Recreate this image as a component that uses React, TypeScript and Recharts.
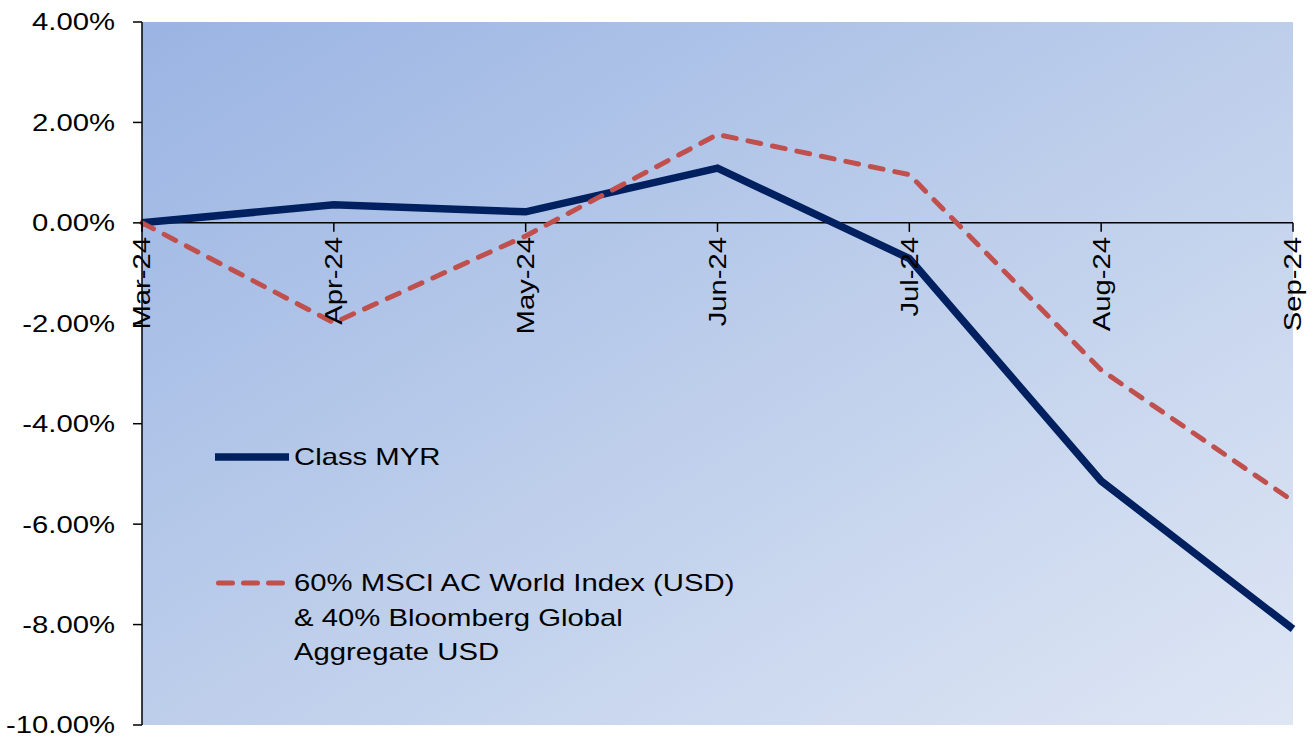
import React from 'react';
import { LineChart, Line, XAxis, YAxis, CartesianGrid, ReferenceLine, ReferenceDot } from 'recharts';

const months = ['Mar-24', 'Apr-24', 'May-24', 'Jun-24', 'Jul-24', 'Aug-24', 'Sep-24'];
const classMyr = [0, 0.36, 0.22, 1.09, -0.71, -5.14, -8.09];
const benchmark = [0, -1.99, -0.26, 1.76, 0.96, -2.93, -5.54];
const yTicks = [-10, -8, -6, -4, -2, 0, 2, 4];
const seriesNames = ['Class MYR', '60% MSCI AC World Index (USD) & 40% Bloomberg Global Aggregate USD'];
const seriesColors = ['#00205F', '#C0504D'];

const data = months.map((m, i) => ({ month: m, myr: classMyr[i], bench: benchmark[i] }));

const FONT = '"Liberation Sans", Arial, sans-serif';
const SX = 1.22;

const YTick = (props: any) => {
  const { x, y, payload } = props;
  return (
    <g transform={`translate(${x},${y}) scale(${SX},1)`}>
      <text x={0} y={0} dy="0.35em" textAnchor="end" fontSize={24} fontFamily={FONT} fill="#000">
        {`${Number(payload.value).toFixed(2)}%`}
      </text>
    </g>
  );
};

const XTickShape = (label: string) => (props: any) => {
  const { cx, cy } = props;
  return (
    <g>
      <line x1={cx} y1={cy} x2={cx} y2={cy + 9} stroke="#000" strokeWidth={1.5} />
      <g transform={`translate(${cx},${cy + 14}) rotate(-90) scale(${SX},1)`}>
        <text x={0} y={0} dy="0.35em" textAnchor="end" fontSize={24} fontFamily={FONT} fill="#000">
          {label}
        </text>
      </g>
    </g>
  );
};

const LegendOverlay = () => (
  <div style={{ position: 'absolute', left: 0, top: 0, width: 1316, height: 740, pointerEvents: 'none', fontFamily: FONT, fontSize: 24, color: '#000' }}>
    <svg width={80} height={20} style={{ position: 'absolute', left: 212, top: 447 }}>
      <line x1={3} y1={10} x2={77} y2={10} stroke={seriesColors[0]} strokeWidth={7.5} />
    </svg>
    <div style={{ position: 'absolute', left: 294, top: 440, lineHeight: '34px', whiteSpace: 'nowrap', transform: `scaleX(${SX})`, transformOrigin: 'left top' }}>
      {seriesNames[0]}
    </div>
    <svg width={80} height={20} style={{ position: 'absolute', left: 212, top: 573 }}>
      <line x1={6.5} y1={10} x2={72} y2={10} stroke={seriesColors[1]} strokeWidth={5} strokeDasharray="14 11" strokeLinecap="round" />
    </svg>
    <div style={{ position: 'absolute', left: 294, top: 566, width: 370, lineHeight: '34.5px', transform: `scaleX(${SX})`, transformOrigin: 'left top' }}>
      {seriesNames[1]}
    </div>
  </div>
);

export default function App() {
  return (
    <div style={{ position: 'absolute', left: 0, top: 0, width: 1316, height: 740, background: '#fff' }}>
      <svg width={0} height={0} style={{ position: 'absolute' }}>
        <defs>
          <linearGradient id="plotBg" x1="0" y1="0" x2="1" y2="1">
            <stop offset="0%" stopColor="#9AB4E3" />
            <stop offset="50%" stopColor="#BDCEEB" />
            <stop offset="100%" stopColor="#DEE6F4" />
          </linearGradient>
        </defs>
      </svg>
      <LineChart width={1316} height={740} data={data} margin={{ top: 22, right: 23, bottom: 15, left: 0 }}>
        <CartesianGrid horizontal={false} vertical={false} fill="url(#plotBg)" stroke="none" />
        <XAxis dataKey="month" type="category" scale="point" padding={{ left: 0, right: 0 }} hide />
        <YAxis
          type="number"
          domain={[-10, 4]}
          ticks={yTicks}
          interval={0}
          width={142}
          tickSize={9}
          tickMargin={18}
          axisLine={{ stroke: '#000', strokeWidth: 1.5 }}
          tickLine={{ stroke: '#000', strokeWidth: 1.5 }}
          tick={<YTick />}
        />
        <ReferenceLine y={0} stroke="#000" strokeWidth={1.5} />
        {months.map((m) => (
          <ReferenceDot key={m} x={m} y={0} r={0} ifOverflow="visible" shape={XTickShape(m)} />
        ))}
        <Line type="linear" dataKey="myr" name={seriesNames[0]} stroke={seriesColors[0]} strokeWidth={7.5} dot={false} isAnimationActive={false} />
        <Line type="linear" dataKey="bench" name={seriesNames[1]} stroke={seriesColors[1]} strokeWidth={5} strokeDasharray="13 12" strokeLinecap="round" dot={false} isAnimationActive={false} />
      </LineChart>
      <LegendOverlay />
    </div>
  );
}
